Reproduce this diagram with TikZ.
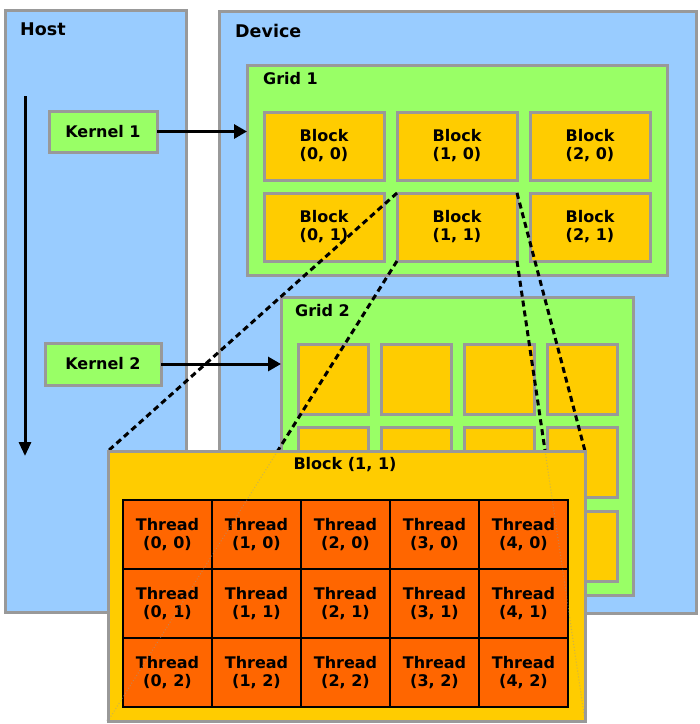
\documentclass[tikz,border=0pt]{standalone}
\usepackage{fontspec}
\setmainfont{DejaVu Sans}
\usetikzlibrary{arrows.meta}
\definecolor{hostblue}{HTML}{99CCFF}
\definecolor{gridgreen}{HTML}{99FF66}
\definecolor{blockyellow}{HTML}{FFCC00}
\definecolor{threadorange}{HTML}{FF6600}
\definecolor{framegray}{HTML}{999999}
\pgfdeclarelayer{front}
\pgfdeclarelayer{toplayer}
\pgfsetlayers{main,front,toplayer}
\tikzset{
  box/.style={draw=framegray, line width=3pt, anchor=north west, inner sep=0pt, outer sep=0pt},
  gridbox/.style={box, fill=gridgreen},
  blockbox/.style={box, fill=blockyellow, minimum width=120pt, minimum height=68pt, align=center,
    font=\bfseries\fontsize{16}{18}\selectfont},
  kernelbox/.style={box, fill=gridgreen, font=\bfseries\fontsize{16}{18}\selectfont},
  threadbox/.style={draw=black, line width=2.5pt, fill=threadorange, anchor=north west, inner sep=0pt,
    outer sep=0pt, minimum width=89pt, minimum height=69pt, align=center,
    font=\bfseries\fontsize{16}{18}\selectfont},
  headtext/.style={anchor=west, inner sep=0pt, font=\bfseries\fontsize{16}{18}\selectfont},
  launch/.style={line width=3pt, -{Triangle[length=13pt,width=14pt]}},
  zoomline/.style={line width=3pt, dash pattern=on 6pt off 4pt},
  faintline/.style={framegray, line width=1pt, dotted, opacity=0.5}
}

\begin{document}
\begin{tikzpicture}[x=1pt,y=-1pt]
\useasboundingbox (0,0) rectangle (700,724);
% host and device
\node[box, fill=hostblue, minimum width=181pt, minimum height=602pt] (host) at (5,10) {};
\node[box, fill=hostblue, minimum width=477pt, minimum height=602pt] (device) at (219,11) {};
\node[headtext, font=\bfseries\fontsize{17.5}{20}\selectfont] (hostlabel) at (20,29) {Host};
\node[headtext, font=\bfseries\fontsize{17.5}{20}\selectfont] (devicelabel) at (235,31) {Device};
% grid 1
\node[gridbox, minimum width=420pt, minimum height=210pt] (grid1) at (247,65) {};
\node[headtext] (grid1label) at (263,79) {Grid 1};
\foreach \i/\x in {0/264,1/397,2/530}
  \foreach \j/\y in {0/112,1/193}
    \node[blockbox] (b\i\j) at (\x,\y) {Block\\(\i, \j)};
% grid 2
\node[gridbox, minimum width=352pt, minimum height=298pt] (grid2) at (281,297) {};
\node[headtext] (grid2label) at (295,311) {Grid 2};
\foreach \i/\x in {0/298,1/381,2/464,3/547}
  \foreach \j/\y in {0/344,1/427,2/511}
    \node[blockbox, minimum width=70pt, minimum height=70pt] (g\i\j) at (\x,\y) {};
% kernels
\node[kernelbox, minimum width=108pt, minimum height=41pt] (kernel1) at (49,111) {Kernel 1};
\node[kernelbox, minimum width=116pt, minimum height=42pt] (kernel2) at (45,343) {Kernel 2};
\draw[launch] (kernel1.east) -- (kernel1.east -| grid1.west);
\draw[launch] (kernel2.east) -- (kernel2.east -| grid2.west);
% time line
\coordinate (tstart) at (25,96);
\coordinate (tend) at (25,456);
\draw[line width=3pt, -{Triangle[length=14pt,width=12pt]}] (tstart) -- (tend);
% block (1, 1) enlarged
\begin{pgfonlayer}{front}
\node[box, fill=blockyellow, minimum width=477pt, minimum height=270pt] (big) at (108,451) {};
\node[headtext, anchor=center] (biglabel) at (345,465) {Block (1, 1)};
\foreach \i in {0,...,4}
  \foreach \j in {0,1,2}
    \node[threadbox] (t\i\j) at ({123+89*\i},{500+69*\j}) {Thread\\(\i, \j)};
\end{pgfonlayer}
% zoom lines
\draw[zoomline] (b11.north west) -- (big.north west);
\draw[zoomline] (b11.north east) -- (big.north east);
\draw[zoomline] (b11.south west) -- (big.south west);
\draw[zoomline] (b11.south east) -- (big.south east);
\begin{pgfonlayer}{toplayer}
\begin{scope}
\clip (big.north west) rectangle (big.south east);
\draw[faintline] (b11.south west) -- (big.south west);
\draw[faintline] (b11.south east) -- (big.south east);
\end{scope}
\end{pgfonlayer}
\end{tikzpicture}
\end{document}
